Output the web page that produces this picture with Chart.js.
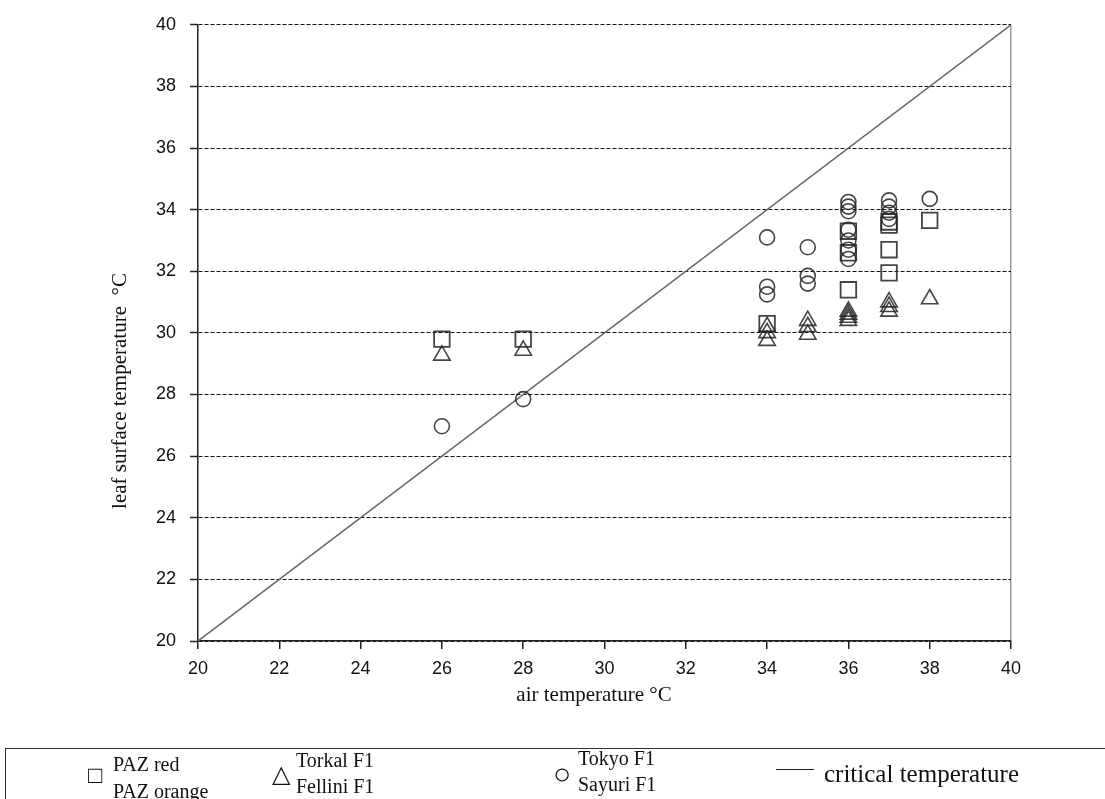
<!DOCTYPE html>
<html>
<head>
<meta charset="utf-8">
<script src="https://cdn.jsdelivr.net/npm/chart.js@4"></script>
<style>
  body { margin: 0; background: #fff; overflow: hidden; }
  #wrap { position: relative; width: 1105px; height: 799px; }
  #legend { position: absolute; left: 5px; top: 748px; width: 1200px; height: 100px;
    border: 1px solid #333; font-family: "Liberation Serif", serif; color: #111; }
  #legend span { position: absolute; white-space: nowrap; font-size: 20px; line-height: 24px; }
  #legend .mk { font-size: 24px; }
</style>
</head>
<body>
<div id="wrap">
  <canvas id="chart" width="1105" height="799"></canvas>
  <div id="legend">
    <span class="mk" style="left:82px;top:14px">□</span>
    <span style="left:107px;top:3px">PAZ red</span>
    <span style="left:107px;top:30px">PAZ orange</span>
    <span class="mk" style="left:266px;top:13px">△</span>
    <span style="left:290px;top:-1px">Torkal F1</span>
    <span style="left:290px;top:25px">Fellini F1</span>
    <span class="mk" style="left:547px;top:13px;font-size:30px">○</span>
    <span style="left:572px;top:-3px">Tokyo F1</span>
    <span style="left:572px;top:23px">Sayuri F1</span>
    <span style="left:770px;top:20px;width:38px;height:0;border-top:1.5px solid #222"></span>
    <span style="left:818px;top:13px;font-size:25px">critical temperature</span>
  </div>
</div>
<script>
// squares: PAZ red / PAZ orange
const squareX = [26, 28, 34, 36, 36, 36, 37, 37, 37, 37, 38];
const squareY = [29.8, 29.8, 30.3, 31.4, 33.3, 32.6, 33.6, 33.5, 32.7, 31.95, 33.65];
// triangles: Torkal F1 / Fellini F1
const triX = [26, 28, 34, 34, 34, 35, 35, 35, 36, 36, 36, 36, 37, 37, 37, 38];
const triY = [29.27, 29.43, 30.2, 30.0, 29.75, 30.4, 30.2, 29.95, 30.7, 30.6, 30.5, 30.4, 31.0, 30.85, 30.7, 31.1];
// circles: Tokyo F1 / Sayuri F1
const circX = [26, 28, 34, 34, 34, 35, 35, 35, 36, 36, 36, 36, 36, 36, 36, 37, 37, 37, 37, 38];
const circY = [26.97, 27.85, 33.1, 31.5, 31.25, 32.78, 31.85, 31.6, 34.25, 34.1, 33.95, 33.35, 33.0, 32.7, 32.4, 34.3, 34.1, 33.9, 33.7, 34.35];
// critical temperature line (leaf = air)
const critX = [20, 40];
const critY = [20, 40];

const xTitle = 'air temperature °C';
const yTitle = 'leaf surface temperature  °C';

function pts(xs, ys) {
  return xs.map((x, i) => ({x: x, y: ys[i]}));
}

const markColor = 'rgba(35,35,35,0.85)';

const axisTitles = {
  id: 'axisTitles',
  afterDraw(chart) {
    const ctx = chart.ctx;
    ctx.save();
    ctx.fillStyle = '#111';
    ctx.font = '21px "Liberation Serif", serif';
    ctx.textAlign = 'center';
    ctx.textBaseline = 'middle';
    ctx.fillText(xTitle, 594, 695);
    ctx.translate(120, 391);
    ctx.rotate(-Math.PI / 2);
    ctx.fillText(yTitle, 0, 0);
    ctx.restore();
  }
};

new Chart(document.getElementById('chart').getContext('2d'), {
  type: 'scatter',
  data: {
    datasets: [{
      label: 'PAZ red / PAZ orange',
      data: pts(squareX, squareY),
      pointStyle: 'rect',
      pointRadius: 11,
      borderColor: markColor,
      backgroundColor: 'transparent',
      borderWidth: 1.8
    }, {
      label: 'Torkal F1 / Fellini F1',
      data: pts(triX, triY),
      pointStyle: 'triangle',
      pointRadius: 9.5,
      borderColor: markColor,
      backgroundColor: 'transparent',
      borderWidth: 1.6
    }, {
      label: 'Tokyo F1 / Sayuri F1',
      data: pts(circX, circY),
      pointStyle: 'circle',
      pointRadius: 7.5,
      borderColor: markColor,
      backgroundColor: 'transparent',
      borderWidth: 1.6
    }, {
      type: 'line',
      label: 'critical temperature',
      data: pts(critX, critY),
      borderColor: '#666',
      borderWidth: 1.5,
      pointRadius: 0,
      fill: false
    }]
  },
  options: {
    responsive: false,
    animation: false,
    layout: { padding: { left: 0, top: 23, right: 94, bottom: 0 } },
    plugins: { legend: { display: false }, tooltip: { enabled: false } },
    scales: {
      x: {
        type: 'linear',
        min: 20, max: 40,
        afterFit: s => { s.height = 158; },
        ticks: { stepSize: 2, color: '#111', padding: 9,
          font: { family: '"Liberation Sans", Arial, sans-serif', size: 18 } },
        grid: {
          color: c => (c.tick && c.tick.value === 40) ? '#999' : 'transparent',
          lineWidth: 1.5,
          tickColor: '#222', tickLength: 8, tickWidth: 1.5
        },
        border: { display: true, color: '#222', width: 1.5 }
      },
      y: {
        type: 'linear',
        min: 20, max: 40,
        afterFit: s => { s.width = 198; },
        ticks: { stepSize: 2, color: '#111', padding: 14,
          font: { family: '"Liberation Sans", Arial, sans-serif', size: 18 } },
        grid: {
          color: '#111', lineWidth: 1,
          tickColor: '#222', tickLength: 8, tickWidth: 1.5, tickBorderDash: []
        },
        border: { display: true, color: '#222', width: 1.5, dash: [4, 2] }
      }
    }
  },
  plugins: [axisTitles]
});
</script>
</body>
</html>
